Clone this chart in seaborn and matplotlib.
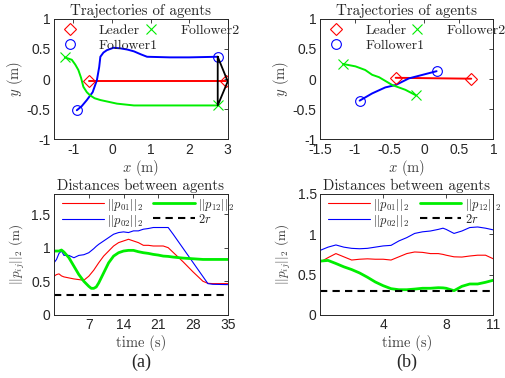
import numpy as np
import pandas as pd
import matplotlib
matplotlib.use("Agg")
import matplotlib.pyplot as plt
import seaborn as sns
from matplotlib.lines import Line2D

sns.set_style("white")
plt.rcParams["font.family"] = ["Liberation Sans", "DejaVu Sans"]
plt.rcParams["mathtext.fontset"] = "cm"
plt.rcParams["axes.unicode_minus"] = False

# ---- (a) trajectories ----
a_leader_x = [-0.59, 2.96]
a_leader_y = [-0.04, -0.04]
a_f1_x = [-0.91, -0.78, -0.65, -0.50, -0.39, -0.33, -0.30, -0.22, -0.13, 0.04, 0.22, 0.40, 0.57, 0.75, 0.91, 1.5, 2.0, 2.74]
a_f1_y = [-0.52, -0.45, -0.35, -0.22, -0.02, 0.20, 0.37, 0.44, 0.48, 0.52, 0.51, 0.49, 0.46, 0.41, 0.37, 0.36, 0.36, 0.37]
a_f2_x = [-1.22, -1.04, -0.95, -0.87, -0.80, -0.74, -0.65, -0.57, -0.45, -0.30, 0.13, 0.57, 1.5, 2.74]
a_f2_y = [0.36, 0.32, 0.24, 0.15, 0.02, -0.13, -0.22, -0.27, -0.32, -0.35, -0.41, -0.44, -0.44, -0.44]
a_tri_x = [2.74, 3.0, 2.74, 2.74]
a_tri_y = [0.37, -0.04, -0.44, 0.37]

# ---- (b) trajectories ----
b_leader_x = [-0.41, 0.68]
b_leader_y = [0.02, 0.005]
b_f1_x = [-0.93, -0.75, -0.56, -0.41, -0.22, -0.02, 0.18]
b_f1_y = [-0.36, -0.24, -0.14, -0.10, 0.01, 0.07, 0.13]
b_f2_x = [-1.17, -0.99, -0.85, -0.75, -0.65, -0.46, -0.27, -0.12]
b_f2_y = [0.25, 0.21, 0.15, 0.07, 0.03, -0.10, -0.18, -0.27]

# ---- (a) distances ----
a_t = [0, 0.5, 1, 1.5, 2, 3, 4, 5, 6, 7, 7.5, 8, 8.5, 9, 10, 11, 12, 13, 14, 15, 16, 17, 18, 19, 20, 21, 22, 23, 24, 26, 28, 30, 31, 32, 35]
a_p01 = [0.575, 0.60, 0.61, 0.58, 0.565, 0.55, 0.535, 0.525, 0.515, 0.575, 0.62, 0.665, 0.72, 0.775, 0.875, 0.95, 1.025, 1.075, 1.10, 1.125, 1.10, 1.075, 1.035, 1.035, 1.025, 1.025, 1.025, 1.0, 0.93, 0.79, 0.64, 0.50, 0.47, 0.465, 0.465]
a_p02 = [0.775, 0.825, 0.915, 0.95, 0.885, 0.885, 0.85, 0.885, 0.895, 0.925, 0.955, 0.985, 1.02, 1.05, 1.10, 1.15, 1.20, 1.225, 1.235, 1.225, 1.25, 1.25, 1.275, 1.285, 1.30, 1.30, 1.30, 1.30, 1.20, 0.99, 0.78, 0.57, 0.465, 0.455, 0.45]
a_p12 = [0.95, 0.95, 0.95, 0.965, 0.935, 0.85, 0.725, 0.60, 0.50, 0.425, 0.395, 0.395, 0.415, 0.475, 0.625, 0.775, 0.875, 0.925, 0.95, 0.96, 0.96, 0.94, 0.925, 0.915, 0.90, 0.89, 0.875, 0.87, 0.86, 0.845, 0.835, 0.825, 0.825, 0.825, 0.825]

# ---- (b) distances ----
b_t = [0, 0.5, 1, 1.5, 2, 2.5, 3, 3.5, 4, 4.5, 5, 5.5, 6, 6.5, 7, 7.5, 7.8, 8, 8.5, 9, 9.5, 10, 10.5, 11]
b_p01 = [0.654, 0.71, 0.76, 0.72, 0.68, 0.69, 0.695, 0.69, 0.69, 0.68, 0.72, 0.76, 0.78, 0.775, 0.76, 0.76, 0.75, 0.74, 0.72, 0.717, 0.73, 0.74, 0.74, 0.695]
b_p02 = [0.80, 0.84, 0.867, 0.84, 0.825, 0.82, 0.825, 0.84, 0.855, 0.862, 0.917, 0.958, 1.01, 1.03, 1.04, 1.06, 1.075, 1.06, 1.01, 1.04, 1.083, 1.09, 1.075, 1.054]
b_p12 = [0.667, 0.675, 0.637, 0.596, 0.562, 0.52, 0.467, 0.408, 0.362, 0.325, 0.312, 0.312, 0.32, 0.33, 0.33, 0.337, 0.335, 0.33, 0.30, 0.354, 0.383, 0.383, 0.404, 0.43]

two_r = 0.3

RED, GREEN, BLUE = "#ff0000", "#00ee00", "#0000ff"
SERIF = "cmr10"
LBL = "#404040"

fig = plt.figure(figsize=(5.05, 3.78), dpi=100)
axes = {
    "ta": fig.add_axes([0.107, 0.632, 0.344, 0.318]),
    "tb": fig.add_axes([0.634, 0.632, 0.343, 0.318]),
    "da": fig.add_axes([0.107, 0.167, 0.344, 0.320]),
    "db": fig.add_axes([0.634, 0.167, 0.343, 0.320]),
}


def style(ax):
    ax.tick_params(direction="in", top=True, right=True, length=3, width=0.6,
                   labelsize=10, colors="#262626", pad=2.5)
    for s in ax.spines.values():
        s.set_linewidth(0.7)
        s.set_color("#262626")


def traj(ax, lx, ly, f1x, f1y, f2x, f2y):
    sns.lineplot(x=lx, y=ly, ax=ax, color=RED, lw=1.4, sort=False, estimator=None)
    sns.lineplot(x=f1x, y=f1y, ax=ax, color=BLUE, lw=1.4, sort=False, estimator=None)
    sns.lineplot(x=f2x, y=f2y, ax=ax, color=GREEN, lw=1.4, sort=False, estimator=None)
    for xs, ys, c, m in [(lx, ly, RED, "D"), (f1x, f1y, BLUE, "o"), (f2x, f2y, GREEN, "x")]:
        ax.plot([xs[0], xs[-1]], [ys[0], ys[-1]], ls="none", marker=m,
                mfc="none", mec=c, ms=7 if m != "D" else 6, mew=0.8)
    handles = [Line2D([], [], ls="none", marker="D", mfc="none", mec=RED, ms=6, mew=0.8),
               Line2D([], [], ls="none", marker="o", mfc="none", mec=BLUE, ms=7, mew=0.8),
               Line2D([], [], ls="none", marker="x", mfc="none", mec=GREEN, ms=7, mew=0.8)]
    ax.legend(handles, ["Leader", "Follower1", "Follower2"], ncol=2, frameon=False,
              loc="upper left", bbox_to_anchor=(-0.005, 1.05), prop={"family": SERIF, "size": 10},
              handlelength=0.8, handletextpad=1.7, columnspacing=-0.9, labelspacing=0.15,
              borderpad=0.3)
    ax.set_ylim(-1, 1)
    ax.set_yticks([-1, -0.5, 0, 0.5, 1])
    ax.set_yticklabels(["-1", "-0.5", "0", "0.5", "1"])
    ax.set_title("Trajectories of agents", fontfamily=SERIF, fontsize=10.8, pad=3)
    ax.set_xlabel(r"$x$ (m)", fontfamily=SERIF, fontsize=10.5, color=LBL, labelpad=1)
    ax.set_ylabel(r"$y$ (m)", fontfamily=SERIF, fontsize=10.5, color=LBL, labelpad=1)
    style(ax)


ax = axes["ta"]
traj(ax, a_leader_x, a_leader_y, a_f1_x, a_f1_y, a_f2_x, a_f2_y)
sns.lineplot(x=a_tri_x, y=a_tri_y, ax=ax, color="black", lw=1.3, sort=False, estimator=None)
ax.set_xlim(-1.5, 3)
ax.set_xticks([-1, 0, 1, 2, 3])
ax.set_xticklabels(["-1", "0", "1", "2", "3"])

ax = axes["tb"]
traj(ax, b_leader_x, b_leader_y, b_f1_x, b_f1_y, b_f2_x, b_f2_y)
ax.set_xlim(-1.5, 1)
ax.set_xticks([-1.5, -1, -0.5, 0, 0.5, 1])
ax.set_xticklabels(["-1.5", "-1", "-0.5", "0", "0.5", "1"])


def dist(ax, t, p01, p02, p12, xmax, ymax, xticks):
    df = pd.DataFrame({"t": t, "p01": p01, "p02": p02, "p12": p12})
    sns.lineplot(data=df, x="t", y="p01", ax=ax, color=RED, lw=0.8, label=r"$||p_{01}||_2$")
    sns.lineplot(data=df, x="t", y="p02", ax=ax, color=BLUE, lw=0.8, label=r"$||p_{02}||_2$")
    sns.lineplot(data=df, x="t", y="p12", ax=ax, color=GREEN, lw=2.0, label=r"$||p_{12}||_2$")
    sns.lineplot(x=[0, xmax], y=[two_r, two_r], ax=ax, color="black", lw=1.5,
                 linestyle=(0, (3.5, 2.5)), label=r"$2r$")
    h, l = ax.get_legend_handles_labels()
    ax.legend(h, l, ncol=2, frameon=False, loc="upper left", bbox_to_anchor=(-0.01, 1.06),
              fontsize=9, handlelength=3.3, handletextpad=0.3, columnspacing=0.8,
              labelspacing=0.0, borderpad=0.3)
    ax.set_xlim(0, xmax)
    ax.set_ylim(0, ymax)
    ax.set_xticks(xticks)
    ax.set_yticks([0, 0.5, 1, 1.5])
    ax.set_yticklabels(["0", "0.5", "1", "1.5"])
    ax.set_title("Distances between agents", fontfamily=SERIF, fontsize=10.8, pad=3)
    ax.set_xlabel("time (s)", fontfamily=SERIF, fontsize=10.5, color=LBL, labelpad=2)
    ax.set_ylabel(r"$||p_{ij}||_2$ (m)", fontfamily=SERIF, fontsize=9.5, color=LBL, labelpad=3)
    style(ax)


dist(axes["da"], a_t, a_p01, a_p02, a_p12, 35, 1.8, [7, 14, 21, 28, 35])
dist(axes["db"], b_t, b_p01, b_p02, b_p12, 11, 1.5, [4, 8, 11])

fig.text(0.279, 0.042, "(a)", ha="center", va="center", fontfamily="Liberation Serif", fontsize=13)
fig.text(0.806, 0.042, "(b)", ha="center", va="center", fontfamily="Liberation Serif", fontsize=13)

fig.savefig("out.png", dpi=100, facecolor="white")
